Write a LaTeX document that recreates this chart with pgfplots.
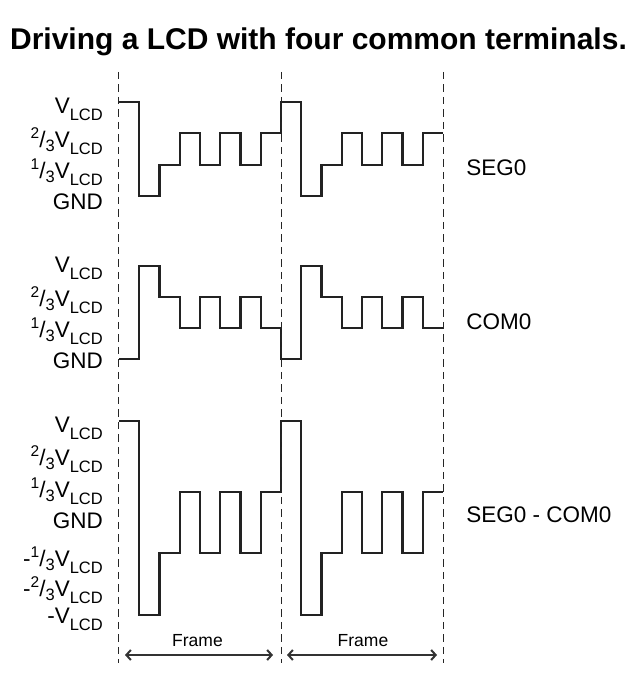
\documentclass[border=0pt]{standalone}
\usepackage{fontspec}
\setmainfont{Liberation Sans}
\usepackage{pgfplots}
\pgfplotsset{compat=1.18}
\usetikzlibrary{arrows.meta}
\newcommand\lbl{\fontsize{22.5}{27}\selectfont}
\newcommand\lo[1]{\raisebox{-7pt}{\fontsize{16.5}{16}\selectfont #1}}
\newcommand\hi[1]{\raisebox{9pt}{\fontsize{15.5}{15}\selectfont #1}}
\newcommand\lt[1]{\raisebox{-4pt}{\fontsize{16.5}{15}\selectfont #1}}
\definecolor{wave}{HTML}{222222}
\pgfplotsset{
  wavestyle/.style={
    scale only axis, clip=false, width=324pt,
    xmin=0, xmax=16, xtick=\empty,
    axis line style={draw=none}, major tick length=0pt,
    yticklabel style={anchor=base east, inner sep=0pt, xshift=-16pt, font=\lbl, text=black},
  },
  wv/.style={const plot, line width=2.2pt, color=wave, mark=none, line join=miter},
}
\begin{document}
\begin{tikzpicture}
\useasboundingbox (0pt,0pt) rectangle (637pt,682pt);
\node[anchor=base, inner sep=0pt, font=\fontsize{30}{36}\selectfont\bfseries] at (318.5pt,632pt) {Driving a LCD with four common terminals.};

% SEG0
\begin{axis}[wavestyle, at={(119pt,486pt)}, anchor=south west, height=98.7pt,
  ymin=0, ymax=1.05,
  ytick={0,0.3333,0.6667,1.03},
  yticklabels={GND,{\hi{1}/\lt{3}V\lo{LCD}},{\hi{2}/\lt{3}V\lo{LCD}},{V\lo{LCD}}},
  yticklabel style={yshift=-14pt}]
\addplot[wv] coordinates {(0,1)(1,0)(2,0.3333)(3,0.6667)(4,0.3333)(5,0.6667)(6,0.3333)(7,0.6667)
  (8,1)(9,0)(10,0.3333)(11,0.6667)(12,0.3333)(13,0.6667)(14,0.3333)(15,0.6667)(16,0.6667)};
\node[anchor=west, inner sep=0pt, font=\lbl] at (axis cs:17.14,0.30) {SEG0};
\end{axis}

% COM0
\begin{axis}[wavestyle, at={(119pt,323pt)}, anchor=south west, height=97.65pt,
  ymin=0, ymax=1.05,
  ytick={0,0.3333,0.6667,1.03},
  yticklabels={GND,{\hi{1}/\lt{3}V\lo{LCD}},{\hi{2}/\lt{3}V\lo{LCD}},{V\lo{LCD}}},
  yticklabel style={yshift=-9.5pt}]
\addplot[wv] coordinates {(0,0)(1,1)(2,0.6667)(3,0.3333)(4,0.6667)(5,0.3333)(6,0.6667)(7,0.3333)
  (8,0)(9,1)(10,0.6667)(11,0.3333)(12,0.6667)(13,0.3333)(14,0.6667)(15,0.3333)(16,0.3333)};
\node[anchor=west, inner sep=0pt, font=\lbl] at (axis cs:17.14,0.40) {COM0};
\end{axis}

% SEG0 - COM0
\begin{axis}[wavestyle, at={(119pt,67pt)}, anchor=south west, height=194pt,
  ymin=-1, ymax=1,
  ytick={-0.96,-0.69,-0.38,0.02,0.34,0.67,1.0},
  yticklabels={{-V\lo{LCD}},{-\hi{2}/\lt{3}V\lo{LCD}},{-\hi{1}/\lt{3}V\lo{LCD}},GND,{\hi{1}/\lt{3}V\lo{LCD}},{\hi{2}/\lt{3}V\lo{LCD}},{V\lo{LCD}}},
  yticklabel style={yshift=-12pt}]
\addplot[wv] coordinates {(0,1)(1,-1)(2,-0.36)(3,0.27)(4,-0.36)(5,0.27)(6,-0.36)(7,0.27)
  (8,1)(9,-1)(10,-0.36)(11,0.27)(12,-0.36)(13,0.27)(14,-0.36)(15,0.27)(16,0.27)};
\node[anchor=west, inner sep=0pt, font=\lbl] at (axis cs:17.14,0.03) {SEG0 - COM0};
\end{axis}

% frame guides
\foreach \xx in {118.5,281.5,443.3}
  \draw[line width=1.1pt, dash pattern=on 7.5pt off 5pt, color=black!85] (\xx pt,610pt) -- (\xx pt,19pt);
\draw[line width=1.5pt, color=black!80, {Straight Barb[length=4.5pt,width=10pt,line width=2pt]}-{Straight Barb[length=4.5pt,width=10pt,line width=2pt]}] (125pt,27pt) -- (273pt,27pt);
\draw[line width=1.5pt, color=black!80, {Straight Barb[length=4.5pt,width=10pt,line width=2pt]}-{Straight Barb[length=4.5pt,width=10pt,line width=2pt]}] (287pt,27pt) -- (437pt,27pt);
\node[anchor=base, inner sep=0pt, font=\fontsize{17.5}{20}\selectfont] at (197.5pt,35pt) {Frame};
\node[anchor=base, inner sep=0pt, font=\fontsize{17.5}{20}\selectfont] at (363pt,35pt) {Frame};
\end{tikzpicture}
\end{document}
